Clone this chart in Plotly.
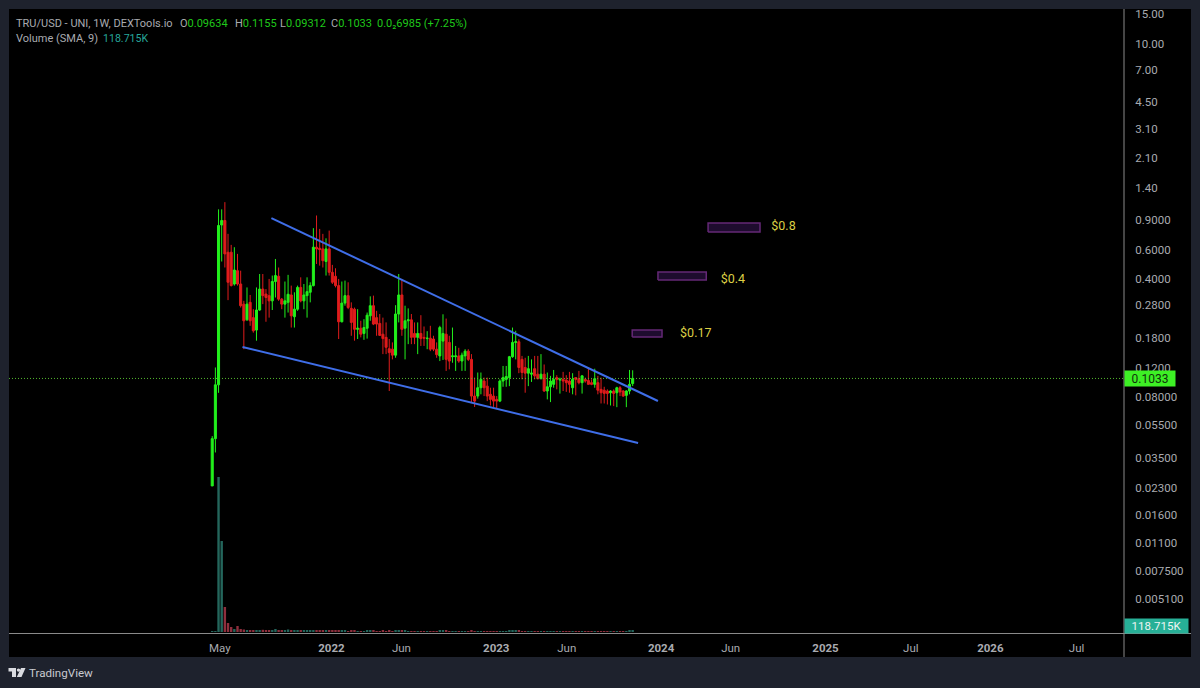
import math
import pandas as pd
import plotly.graph_objects as go

# Weekly TRU/USD candles
weeks = pd.date_range("2021-04-12", periods=134, freq="7D")

opens = [
    .0238, .0454, .0947, .84, .893, .579, .579, .375, .45, .375,
    .285, .23, .292, .237, .2, .263, .35, .327, .32, .298,
    .388, .417, .305, .285, .292, .323, .24, .266, .358, .298,
    .32, .335, .367, .62, .611, .606, .51, .606, .44, .417,
    .367, .224, .289, .32, .269, .266, .202, .205, .191, .205,
    .243, .279, .237, .219, .189, .181, .155, .154, .142, .249,
    .323, .205, .227, .23, .191, .181, .191, .181, .178, .179,
    .177, .154, .1405, .172, .189, .169, .139, .139, .1405, .131,
    .1405, .15, .134, .0812, .0812, .091, .0997, .093, .0832, .0812,
    .0776, .0758, .0997, .102, .1045, .139, .169, .1705, .134, .12,
    .111, .1095, .118, .1095, .103, .1095, .087, .0922, .0953, .1045,
    .101, .102, .101, .0997, .091, .1045, .103, .0975, .102, .1005,
    .0975, .0953, .0975, .089, .088, .087, .085, .087, .085, .091,
    .087, .082, .087, .09634,
]
highs = [
    .047, .12, 1.04, 1.04, 1.147, .744, .64, .62, .566, .45,
    .298, .358, .323, .266, .358, .43, .43, .35, .402, .421,
    .528, .47, .31, .388, .425, .367, .335, .367, .411, .375,
    .411, .384, .804, .956, .796, .744, .70, .778, .487, .465,
    .402, .388, .393, .384, .292, .272, .266, .227, .232, .254,
    .317, .32, .26, .249, .237, .222, .177, .169, .281, .43,
    .402, .279, .269, .249, .222, .222, .245, .21, .197, .212,
    .185, .169, .212, .248, .234, .185, .207, .161, .157, .147,
    .154, .154, .144, .1045, .112, .112, .1045, .1045, .091, .091,
    .0812, .102, .1225, .1225, .1405, .207, .198, .1765, .1405, .137,
    .1405, .134, .1405, .1405, .144, .125, .112, .107, .116, .108,
    .1045, .113, .108, .113, .111, .1045, .1145, .108, .1045, .118,
    .102, .118, .107, .1045, .0922, .089, .088, .089, .0922, .093,
    .088, .088, .116, .1155,
]
lows = [
    .0238, .0376, .0849, .51, .47, .301, .363, .367, .367, .272,
    .154, .227, .212, .193, .173, .26, .285, .224, .237, .263,
    .312, .298, .266, .237, .254, .207, .207, .26, .292, .266,
    .237, .292, .363, .493, .482, .47, .421, .421, .375, .358,
    .177, .222, .279, .266, .185, .173, .177, .181, .175, .178,
    .227, .214, .185, .185, .144, .144, .087, .134, .137, .222,
    .185, .134, .165, .165, .165, .144, .161, .161, .154, .15,
    .15, .137, .131, .133, .1145, .117, .128, .1145, .128, .1145,
    .1145, .131, .0741, .07, .0784, .0832, .0812, .0758, .0714, .0691,
    .0682, .0748, .0922, .0922, .093, .137, .134, .111, .102, .085,
    .093, .0985, .102, .102, .102, .086, .0776, .0748, .091, .089,
    .084, .087, .086, .085, .0832, .082, .0953, .084, .0975, .0953,
    .0942, .091, .0832, .0734, .0734, .0724, .0714, .0708, .0698, .0812,
    .0805, .0698, .0832, .09312,
]
closes = [
    .0454, .0947, .834, .893, .566, .384, .367, .454, .375, .279,
    .227, .285, .227, .198, .263, .35, .32, .312, .298, .388,
    .421, .305, .285, .298, .326, .243, .266, .358, .298, .323,
    .338, .367, .62, .606, .6, .516, .606, .44, .384, .367,
    .224, .289, .32, .272, .222, .202, .205, .189, .207, .245,
    .279, .217, .217, .186, .178, .158, .147, .142, .249, .323,
    .202, .227, .23, .181, .181, .191, .178, .179, .179, .154,
    .154, .143, .207, .191, .134, .131, .1405, .1405, .131, .142,
    .15, .134, .0812, .0758, .091, .102, .091, .0812, .0776, .0758,
    .0758, .0997, .1045, .106, .139, .169, .1705, .12, .112, .111,
    .118, .111, .107, .103, .1095, .087, .0922, .0997, .102, .102,
    .102, .0997, .0975, .0953, .102, .102, .0975, .107, .0997, .0953,
    .0953, .103, .088, .085, .0842, .0842, .087, .0842, .091, .0858,
    .0812, .087, .0953, .1033,
]
# Volume in thousands of USD
volumes_k = [
    30, 60, 15500, 9100, 2500, 900, 500, 300, 600, 300,
    250, 200, 150, 150, 120, 200, 220, 150, 120, 180,
    300, 200, 120, 150, 250, 180, 150, 120, 110, 130,
    120, 110, 160, 140, 130, 120, 140, 170, 120, 110,
    150, 130, 110, 100, 120, 110, 90, 100, 90, 110,
    120, 130, 100, 90, 110, 100, 140, 100, 130, 170,
    150, 110, 90, 100, 80, 90, 100, 80, 70, 80,
    90, 80, 110, 120, 130, 90, 80, 70, 70, 80,
    70, 80, 130, 100, 90, 80, 70, 80, 80, 70,
    70, 100, 90, 80, 110, 150, 120, 130, 90, 90,
    80, 70, 80, 70, 70, 100, 90, 80, 70, 60,
    60, 70, 60, 70, 80, 60, 70, 70, 60, 80,
    60, 80, 90, 100, 80, 70, 70, 60, 90, 70,
    80, 100, 120, 119,
]

price_ticks = [15, 10, 7, 4.5, 3.1, 2.1, 1.4, .9, .6, .4, .28, .18, .12, .08,
               .055, .035, .023, .016, .011, .0075, .0051]
price_labels = ["15.00", "10.00", "7.00", "4.50", "3.10", "2.10", "1.40", "0.9000",
                "0.6000", "0.4000", "0.2800", "0.1800", "0.1200", "0.08000", "0.05500",
                "0.03500", "0.02300", "0.01600", "0.01100", "0.007500", "0.005100"]
date_ticks = ["2021-04-29", "2022-01-01", "2022-06-05", "2023-01-01", "2023-06-06", "2024-01-01",
              "2024-06-03", "2024-12-30", "2025-07-07", "2025-12-30", "2026-07-09"]
date_labels = ["May", "<b>2022</b>", "Jun", "<b>2023</b>", "Jun", "<b>2024</b>",
               "Jun", "<b>2025</b>", "Jul", "<b>2026</b>", "Jul"]

# Falling wedge trendlines
upper_dates, upper_prices = ["2021-08-21", "2023-12-25"], [.923, .0759]
lower_dates, lower_prices = ["2021-06-18", "2023-11-11"], [.1586, .0428]

# Price targets: label, start, end, low, high
target_labels = ["$0.17", "$0.4", "$0.8"]
target_starts = ["2023-10-29", "2023-12-25", "2024-04-14"]
target_ends = ["2024-01-03", "2024-04-10", "2024-08-07"]
target_lows = [.1817, .396, .763]
target_highs = [.2, .442, .862]
label_dates = ["2024-02-12", "2024-05-12", "2024-09-01"]
label_prices = [.1894, .396, .817]

W, H = 1200, 688
PANE_L, PANE_R, PANE_T, PANE_B = 9, 1124, 9, 632
FRAME_R, FRAME_B = 1191, 657
AXIS_TOP, AXIS_BOTTOM = 1.205, -2.4895   # log10 price at pane edges
X_RANGE = ["2020-01-18", "2026-10-22"]

BG = "#1e222d"
GREEN = "#22f01c"
RED = "#e01c1c"
VOL_GREEN = "#24665c"
VOL_RED = "#8e2f3d"
LABEL = "#a9abb0"
GOLD = "#dccf45"
PURPLE = "#642876"
PURPLE_FILL = "#1e0c2e"
BLUE = "#3f6ee8"
TEAL = "#26a69a"
FONT = "Roboto"


def px(x):
    return x / W


def py(y):
    return 1 - y / H


def rect(x0, y0, x1, y1, color):
    return dict(type="rect", xref="paper", yref="paper", x0=px(x0), x1=px(x1), y0=py(y1), y1=py(y0),
                fillcolor=color, line=dict(width=0))


fig = go.Figure()

# Volume pane shares the time axis, on its own linear scale
fig.add_trace(go.Bar(
    x=weeks, y=[v * 1000 for v in volumes_k], yaxis="y2", width=4.6e8,
    marker=dict(color=[VOL_GREEN if c >= o else VOL_RED for o, c in zip(opens, closes)], line=dict(width=0)),
    hoverinfo="skip",
))

fig.add_trace(go.Candlestick(
    x=weeks, open=opens, high=highs, low=lows, close=closes, whiskerwidth=0,
    increasing=dict(line=dict(color=GREEN, width=1), fillcolor=GREEN),
    decreasing=dict(line=dict(color=RED, width=1), fillcolor=RED),
    hoverinfo="skip",
))

# Last close marker line
fig.add_trace(go.Scatter(
    x=X_RANGE, y=[closes[-1], closes[-1]], mode="lines",
    line=dict(color="#52b82e", width=1, dash="1px 2px"), hoverinfo="skip",
))

for xs, ys in ((upper_dates, upper_prices), (lower_dates, lower_prices)):
    fig.add_trace(go.Scatter(x=xs, y=ys, mode="lines", line=dict(color=BLUE, width=2), hoverinfo="skip"))

for start, end, low, high in zip(target_starts, target_ends, target_lows, target_highs):
    fig.add_trace(go.Scatter(
        x=[start, end, end, start, start], y=[low, low, high, high, low], mode="lines",
        fill="toself", fillcolor=PURPLE_FILL, line=dict(color=PURPLE, width=1.5), hoverinfo="skip",
    ))

fig.add_trace(go.Scatter(
    x=label_dates, y=label_prices, mode="text", text=target_labels, textposition="middle right",
    textfont=dict(color=GOLD, size=12.5, family=FONT), hoverinfo="skip",
))

shapes = [
    rect(PANE_L, PANE_T, FRAME_R, FRAME_B, "#000000"),
    dict(type="line", xref="paper", yref="paper", x0=px(PANE_R), x1=px(PANE_R), y0=py(FRAME_B), y1=py(PANE_T),
         line=dict(color="#8a8a8a", width=1), layer="above"),
    dict(type="line", xref="paper", yref="paper", x0=px(PANE_L), x1=px(FRAME_R), y0=py(633.5), y1=py(633.5),
         line=dict(color="#8a8a8a", width=1), layer="above"),
]
for s in shapes[:1]:
    s["layer"] = "below"

# TradingView logo glyph
LOGO = "#d9dbe0"
for x0, y0, x1, y1 in ((8.5, 668, 16, 671.5), (12, 668, 16, 677)):
    s = rect(x0, y0, x1, y1, LOGO)
    shapes.append(s)
shapes.append(dict(type="circle", xref="paper", yref="paper", x0=px(16.8), x1=px(20.2), y0=py(671.8), y1=py(668.4),
                   fillcolor=LOGO, line=dict(width=0)))
slant = [(21, 668), (25.5, 668), (21.5, 677), (16.8, 677)]
shapes.append(dict(type="path", xref="paper", yref="paper", fillcolor=LOGO, line=dict(width=0),
                   path="M " + " L ".join(f"{px(a):.5f},{py(b):.5f}" for a, b in slant) + " Z"))


def text(x, y, s, color=LABEL, size=11):
    return dict(xref="paper", yref="paper", x=px(x), y=py(y), text=s, showarrow=False, xanchor="left",
                yanchor="middle", font=dict(color=color, size=size, family=FONT), borderpad=0, borderwidth=0)


def quote(x, letter, value):
    return text(x, 24, f'{letter}<span style="color:{GREEN_TEXT}">{value}</span>')


GREEN_TEXT = "#1fc81a"
annotations = [
    text(16, 24, "TRU/USD - UNI, 1W, DEXTools.io"),
    quote(180, "O", "0.09634"),
    quote(235, "H", "0.1155"),
    quote(280, "L", "0.09312"),
    quote(331, "C", "0.1033"),
    text(377, 24, "0.0₂6985 (+7.25%)", GREEN_TEXT),
    text(16, 39, "Volume (SMA, 9)"),
    text(103, 39, "118.715K", TEAL, 10.6),
    text(29, 673, "TradingView", "#c8cad0", 11.6),
    dict(xref="paper", yref="y", x=px(PANE_R), y=math.log10(closes[-1]), xanchor="left", yanchor="middle",
         text="0.1033", showarrow=False, width=50, height=15, align="center", bgcolor="#3df025",
         borderpad=0, font=dict(color="#10300c", size=12, family=FONT)),
    dict(xref="paper", yref="paper", x=px(PANE_R), y=py(626), xanchor="left", yanchor="middle",
         text="118.715K", showarrow=False, width=63, height=14, align="center", bgcolor="#27b097",
         borderpad=0, font=dict(color="#eef5f3", size=11.5, family=FONT)),
]

fig.update_layout(
    width=W, height=H, margin=dict(l=0, r=0, t=0, b=0, autoexpand=False), paper_bgcolor=BG,
    plot_bgcolor="rgba(0,0,0,0)",
    showlegend=False, hovermode=False, barmode="overlay", boxgap=0.08, shapes=shapes, annotations=annotations,
    font=dict(family=FONT, color=LABEL, size=11),
    xaxis=dict(
        domain=[px(PANE_L), px(PANE_R)], range=X_RANGE, type="date", anchor="y2", showgrid=False, zeroline=False,
        automargin=False, rangeslider=dict(visible=False), tickmode="array", tickvals=date_ticks,
        ticktext=date_labels, ticks="outside", ticklen=5, tickcolor="rgba(0,0,0,0)", showline=False,
        tickfont=dict(color=LABEL, size=11.5, family=FONT),
    ),
    yaxis=dict(
        domain=[py(PANE_B), py(PANE_T)], type="log", range=[AXIS_BOTTOM, AXIS_TOP], side="right", anchor="x",
        automargin=False, showgrid=False, zeroline=False, showline=False, tickmode="array", tickvals=price_ticks,
        ticktext=price_labels, ticks="outside", ticklen=8, tickcolor="rgba(0,0,0,0)",
        tickfont=dict(color=LABEL, size=11.5, family=FONT),
    ),
    yaxis2=dict(
        domain=[py(PANE_B), py(PANE_T)], range=[0, 62300000], overlaying="y", anchor="x", side="left",
        automargin=False, visible=False, showgrid=False, zeroline=False,
    ),
)

fig.write_html("out.html", config=dict(displayModeBar=False))
